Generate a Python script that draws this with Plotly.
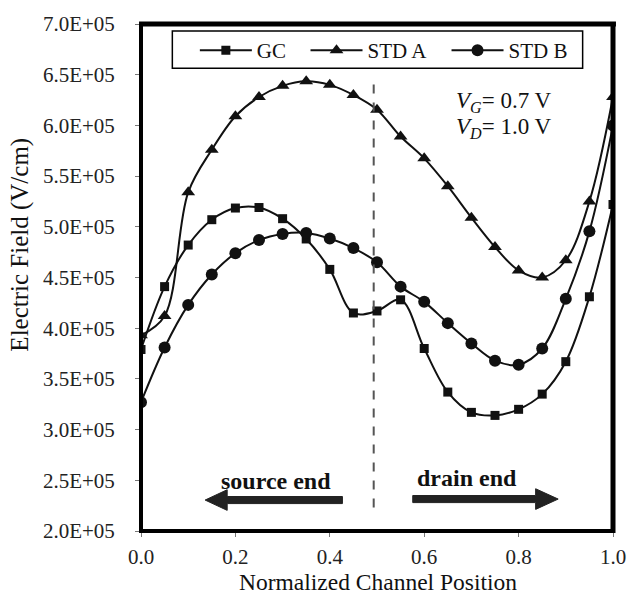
import plotly.graph_objects as go

# ---------------- data ----------------
x_pos = [0.0, 0.05, 0.10, 0.15, 0.20, 0.25, 0.30, 0.35, 0.40, 0.45, 0.50,
         0.55, 0.60, 0.65, 0.70, 0.75, 0.80, 0.85, 0.90, 0.95, 1.0]
gc = [3.79e5, 4.41e5, 4.82e5, 5.07e5, 5.185e5, 5.19e5, 5.08e5, 4.88e5, 4.58e5, 4.15e5, 4.17e5,
      4.28e5, 3.80e5, 3.37e5, 3.17e5, 3.14e5, 3.20e5, 3.35e5, 3.67e5, 4.31e5, 5.22e5]
std_a = [3.93e5, 4.12e5, 5.34e5, 5.76e5, 6.09e5, 6.28e5, 6.39e5, 6.435e5, 6.40e5, 6.30e5, 6.155e5,
         5.89e5, 5.675e5, 5.40e5, 5.09e5, 4.80e5, 4.57e5, 4.50e5, 4.67e5, 5.25e5, 6.28e5]
std_b = [3.27e5, 3.81e5, 4.23e5, 4.53e5, 4.74e5, 4.87e5, 4.93e5, 4.94e5, 4.885e5, 4.79e5, 4.65e5,
         4.41e5, 4.26e5, 4.05e5, 3.85e5, 3.68e5, 3.64e5, 3.80e5, 4.29e5, 4.955e5, 6.00e5]
series_names = ["GC", "STD A", "STD B"]
y_tickvals = [2.0e5, 2.5e5, 3.0e5, 3.5e5, 4.0e5, 4.5e5, 5.0e5, 5.5e5, 6.0e5, 6.5e5, 7.0e5]
y_ticktext = ["2.0E+05", "2.5E+05", "3.0E+05", "3.5E+05", "4.0E+05", "4.5E+05",
              "5.0E+05", "5.5E+05", "6.0E+05", "6.5E+05", "7.0E+05"]
x_tickvals = [0.0, 0.2, 0.4, 0.6, 0.8, 1.0]
x_ticktext = ["0.0", "0.2", "0.4", "0.6", "0.8", "1.0"]

# ---------------- layout geometry ----------------
W, H = 638, 597
L, R, T, B = 141, 15, 15, 66
PW, PH = W - L - R, H - T - B

def px(xp):
    return (xp - L) / PW

def py(yp):
    return 1 - (yp - T) / PH

SERIF = "Liberation Serif, Times New Roman, serif"
INK = "#111111"

fig = go.Figure()
symbols = ["square", "triangle-up", "circle"]
sizes = [9, 12, 12]
legend_ids = ["legend", "legend2", "legend3"]
legend_x = [196, 309, 453]
for name, ys, sym, sz, lg in zip(series_names, [gc, std_a, std_b], symbols, sizes, legend_ids):
    fig.add_trace(go.Scatter(
        x=x_pos, y=ys, name=name, mode="lines+markers", legend=lg,
        line=dict(color=INK, width=2, shape="spline", smoothing=1.0),
        marker=dict(symbol=sym, size=sz, color=INK),
    ))

shapes = []
# plot frame
shapes += [
    dict(type="line", xref="paper", yref="paper", x0=0, x1=0, y0=py(531), y1=py(15),
         line=dict(color="black", width=4)),
    dict(type="line", xref="paper", yref="paper", x0=px(139), x1=px(626), y0=1, y1=1,
         line=dict(color="black", width=5)),
    dict(type="line", xref="paper", yref="paper", x0=1, x1=1, y0=py(533), y1=py(13),
         line=dict(color="black", width=5)),
    dict(type="line", xref="paper", yref="paper", x0=px(139), x1=px(625), y0=0, y1=0,
         line=dict(color="black", width=4)),
]
# legend box
shapes.append(dict(type="rect", xref="paper", yref="paper",
                   x0=px(173), x1=px(592), y0=py(60), y1=py(22),
                   line=dict(color="black", width=1.5), fillcolor="white", layer="below"))
# dashed separator
shapes.append(dict(type="line", xref="x", yref="paper", x0=0.493, x1=0.493,
                   y0=py(507), y1=py(70),
                   line=dict(color="#555555", width=2, dash="dash")))

def arrow_path(tail, base, tip, yc, half_shaft, half_head):
    pts = [(tail, yc - half_shaft), (base, yc - half_shaft), (base, yc - half_head),
           (tip, yc), (base, yc + half_head), (base, yc + half_shaft), (tail, yc + half_shaft)]
    return "M " + " L ".join(f"{px(a):.5f},{py(b):.5f}" for a, b in pts) + " Z"

shapes.append(dict(type="path", xref="paper", yref="paper",
                   path=arrow_path(346.7, 229, 206.5, 499.5, 3.6, 10.5),
                   fillcolor="#222222", line=dict(color="#222222", width=1)))
shapes.append(dict(type="path", xref="paper", yref="paper",
                   path=arrow_path(418.5, 544, 567, 498.5, 3.6, 10.5),
                   fillcolor="#222222", line=dict(color="#222222", width=1)))

annotations = [
    dict(text="<i>V</i><sub><i>G</i></sub>= 0.7 V", x=px(461), y=py(94), xref="paper", yref="paper",
         xanchor="left", yanchor="middle", showarrow=False,
         font=dict(family=SERIF, size=23, color=INK)),
    dict(text="<i>V</i><sub><i>D</i></sub>= 1.0 V", x=px(461), y=py(121), xref="paper", yref="paper",
         xanchor="left", yanchor="middle", showarrow=False,
         font=dict(family=SERIF, size=23, color=INK)),
    dict(text="<b>source end</b>", x=px(279), y=py(480), xref="paper", yref="paper",
         xanchor="center", yanchor="middle", showarrow=False,
         font=dict(family=SERIF, size=24, color=INK)),
    dict(text="<b>drain end</b>", x=px(474), y=py(477), xref="paper", yref="paper",
         xanchor="center", yanchor="middle", showarrow=False,
         font=dict(family=SERIF, size=24, color=INK)),
    dict(text="Electric Field (V/cm)", x=px(18), y=py(240), xref="paper", yref="paper",
         xanchor="center", yanchor="middle", textangle=-90, showarrow=False,
         font=dict(family=SERIF, size=25, color=INK)),
    dict(text="Normalized Channel Position", x=px(383), y=py(597), xref="paper", yref="paper",
         xanchor="center", yanchor="bottom", showarrow=False, borderpad=0,
         font=dict(family=SERIF, size=23.5, color=INK)),
]

legend_common = dict(orientation="h", xanchor="left", yanchor="middle",
                     bgcolor="rgba(0,0,0,0)", borderwidth=0,
                     font=dict(family=SERIF, size=21, color=INK), itemwidth=52)

layout_legends = {}
for lg, lx in zip(legend_ids, legend_x):
    layout_legends[lg] = dict(legend_common, x=px(lx), y=py(42))

fig.update_layout(
    width=W, height=H,
    margin=dict(l=L, r=R, t=T, b=B, pad=0),
    paper_bgcolor="white", plot_bgcolor="white",
    showlegend=True,
    shapes=shapes,
    annotations=annotations,
    xaxis=dict(range=[0, 1], tickvals=x_tickvals, ticktext=x_ticktext,
               showgrid=False, zeroline=False, showline=False,
               ticks="outside", ticklen=5, tickcolor="#777777", tickwidth=1,
               ticklabelstandoff=2,
               tickfont=dict(family=SERIF, size=21, color="#222222")),
    yaxis=dict(range=[2.0e5, 7.0e5], tickvals=y_tickvals, ticktext=y_ticktext,
               showgrid=False, zeroline=False, showline=False,
               ticks="outside", ticklen=5, tickcolor="#777777", tickwidth=1,
               ticklabelstandoff=16,
               tickfont=dict(family=SERIF, size=21, color="#222222")),
    **layout_legends,
)

fig.write_html("out.html")
